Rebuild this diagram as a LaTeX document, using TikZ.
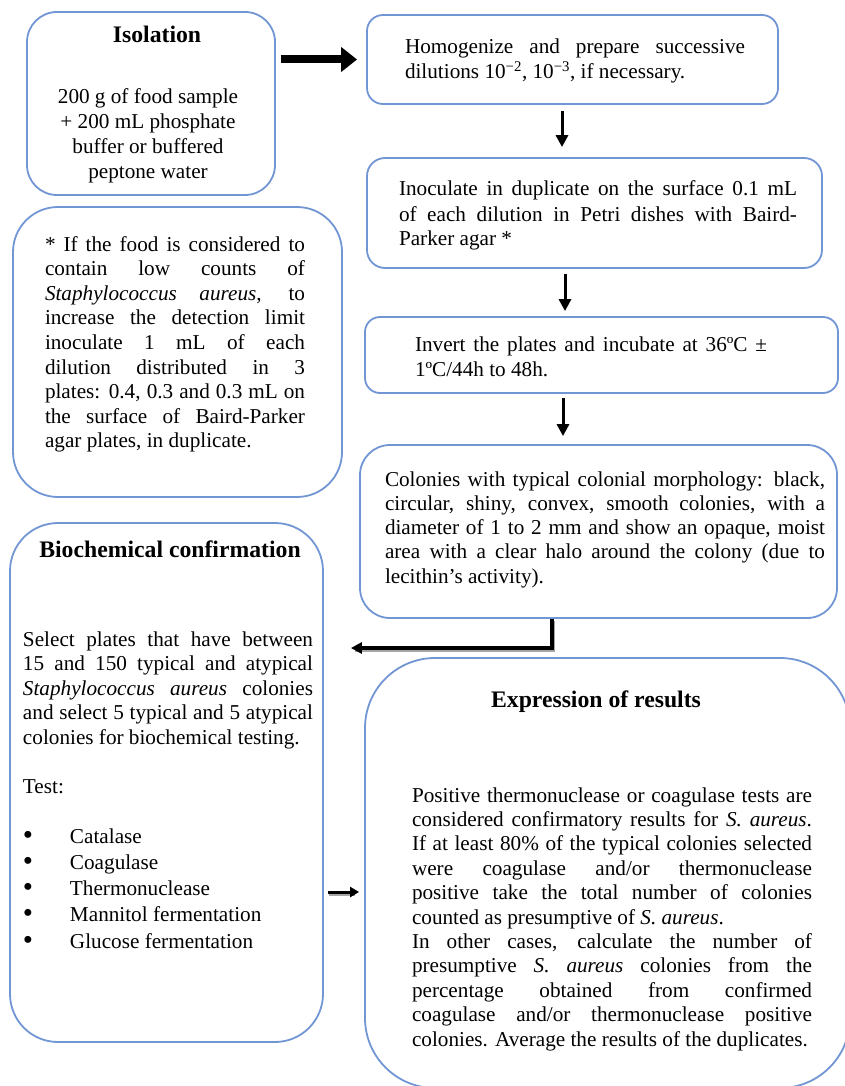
\documentclass[tikz,border=0pt]{standalone}
\usepackage{fontspec}
\setmainfont{Liberation Serif}
\usetikzlibrary{arrows.meta}
\definecolor{boxblue}{RGB}{114,150,212}
\newcommand{\txtblock}[3]{\begin{minipage}[t]{#1}\fontsize{21.2}{#2}\selectfont\parskip=0pt\parindent=0pt\tolerance=10000\hbadness=10000\hyphenpenalty=10000\exhyphenpenalty=10000 #3\end{minipage}}
\newcommand{\bigbul}{\makebox[47pt][l]{\raisebox{-1pt}{\fontsize{29}{29}\selectfont\textbullet}}}
\tikzset{
  rbox/.style={draw=boxblue, line width=1.8pt, rounded corners=#1, inner sep=0pt},
  txt/.style={inner sep=0pt, outer sep=0pt, anchor=base west},
  ttl/.style={inner sep=0pt, anchor=base, font=\fontsize{23.7}{28}\selectfont\bfseries},
  bigarrow/.style={line width=8pt, -{Triangle[length=16pt,width=24pt]}},
  downarrow/.style={line width=3pt, -{Triangle[length=12pt,width=12pt]}},
  elbowarrow/.style={line width=3.5pt, -{Triangle[length=11pt,width=11pt]}},
  smallarrow/.style={line width=3pt, -{Triangle[length=9pt,width=10pt]}},
  shadowline/.style={draw=black!35, line width=3.5pt, transform canvas={xshift=1pt,yshift=-2.5pt}}
}
\begin{document}
\begin{tikzpicture}[x=1pt,y=-1pt]
\useasboundingbox (0,0) rectangle (845,1086);
\begin{scope}
\clip (0,0) rectangle (845,1086);
% boxes
\node[rbox=30pt, minimum width=248pt, minimum height=183pt] (iso) at (151,103.5) {};
\node[rbox=16pt, minimum width=411pt, minimum height=89pt] (hom) at (572.5,59.5) {};
\node[rbox=18pt, minimum width=455pt, minimum height=110pt] (ino) at (594.5,213) {};
\node[rbox=15pt, minimum width=473pt, minimum height=76pt] (inv) at (601.5,355) {};
\node[rbox=30pt, minimum width=477pt, minimum height=173pt] (col) at (598.5,531.5) {};
\node[rbox=45pt, minimum width=329pt, minimum height=290pt] (note) at (177.5,352) {};
\node[rbox=48pt, minimum width=313pt, minimum height=519pt] (bio) at (166.5,782.5) {};
\node[rbox=70pt, minimum width=485pt, minimum height=430pt] (exp) at (607.5,873) {};

% titles
\node[ttl] (isoT) at (157,43) {Isolation};
\node[ttl] (bioT) at (170,557) {Biochemical confirmation};
\node[ttl] (expT) at (596,707) {Expression of results};

% texts
\node[txt] (isoB) at (24,104) {\txtblock{248pt}{25pt}{\centering 200 g of food sample\\ + 200 mL phosphate\\ buffer or buffered\\ peptone water}};

\node[txt] (homB) at (405,54) {\txtblock{340pt}{24.6pt}{Homogenize and prepare successive\linebreak dilutions 10\textsuperscript{−2}, 10\textsuperscript{−3}, if necessary.}};

\node[txt] (inoB) at (399,196) {\txtblock{398pt}{25pt}{Inoculate in duplicate on the surface 0.1 mL\linebreak of each dilution in Petri dishes with Baird-\linebreak Parker agar *}};

\node[txt] (invB) at (415,351) {\txtblock{352pt}{25pt}{Invert the plates and incubate at 36ºC ±\linebreak 1ºC/44h to 48h.}};

\node[txt] (colB) at (385,486) {\txtblock{440pt}{24.3pt}{Colonies with typical colonial morphology: black,\linebreak circular, shiny, convex, smooth colonies, with a\linebreak diameter of 1 to 2 mm and show an opaque, moist\linebreak area with a clear halo around the colony (due to\linebreak lecithin’s activity).}};

\node[txt] (noteB) at (45,251) {\txtblock{260pt}{24.6pt}{* If the food is considered to\linebreak contain low counts of\linebreak \textit{Staphylococcus aureus}, to\linebreak increase the detection limit\linebreak inoculate 1 mL of each\linebreak dilution distributed in 3\linebreak plates: 0.4, 0.3 and 0.3 mL on\linebreak the surface of Baird-Parker\linebreak agar plates, in duplicate.}};

\node[txt] (bioB) at (23,646) {\txtblock{290pt}{24.6pt}{Select plates that have between\linebreak 15 and 150 typical and atypical\linebreak \textit{Staphylococcus aureus} colonies\linebreak and select 5 typical and 5 atypical\linebreak colonies for biochemical testing.\par\vspace{24.6pt}Test:}};

\node[txt] (bioL) at (23,843) {\txtblock{300pt}{26.25pt}{\bigbul Catalase\\ \bigbul Coagulase\\ \bigbul Thermonuclease\\ \bigbul Mannitol fermentation\\ \bigbul Glucose fermentation}};

\node[txt] (expB) at (412,802) {\txtblock{400pt}{24.4pt}{Positive thermonuclease or coagulase tests are\linebreak considered confirmatory results for \textit{S. aureus}.\linebreak If at least 80\% of the typical colonies selected\linebreak were coagulase and/or thermonuclease\linebreak positive take the total number of colonies\linebreak counted as presumptive of \textit{S. aureus}.\par In other cases, calculate the number of\linebreak presumptive \textit{S. aureus} colonies from the\linebreak percentage obtained from confirmed\linebreak coagulase and/or thermonuclease positive\linebreak colonies. Average the results of the duplicates.}};

% connectors
\draw[bigarrow] ([xshift=5pt]iso.east |- hom.west) -- ([xshift=-9pt]hom.west);
\draw[downarrow, shorten <=6pt, shorten >=10pt] ([xshift=-10.5pt]hom.south) -- ([xshift=-10.5pt]hom.south |- ino.north);
\draw[downarrow, shorten <=5pt, shorten >=5pt] ([xshift=-29.5pt]ino.south) -- ([xshift=-29.5pt]ino.south |- inv.north);
\draw[downarrow, shorten <=4pt, shorten >=8pt] ([xshift=-38.5pt]inv.south) -- ([xshift=-38.5pt]inv.south |- col.north);

\coordinate (elb) at (552,648);
\draw[shadowline] (col.south -| elb) -- (elb) -- ([xshift=30pt]bio.east |- elb);
\draw[elbowarrow] (col.south -| elb) -- (elb) -- ([xshift=27pt]bio.east |- elb);

\coordinate (sm) at (340,892);
\draw[shadowline, line width=2pt] ([xshift=4pt]bio.east |- sm) -- ([xshift=-10pt]exp.west |- sm);
\draw[smallarrow] ([xshift=4pt]bio.east |- sm) -- ([xshift=-5pt]exp.west |- sm);
\end{scope}
\end{tikzpicture}
\end{document}
